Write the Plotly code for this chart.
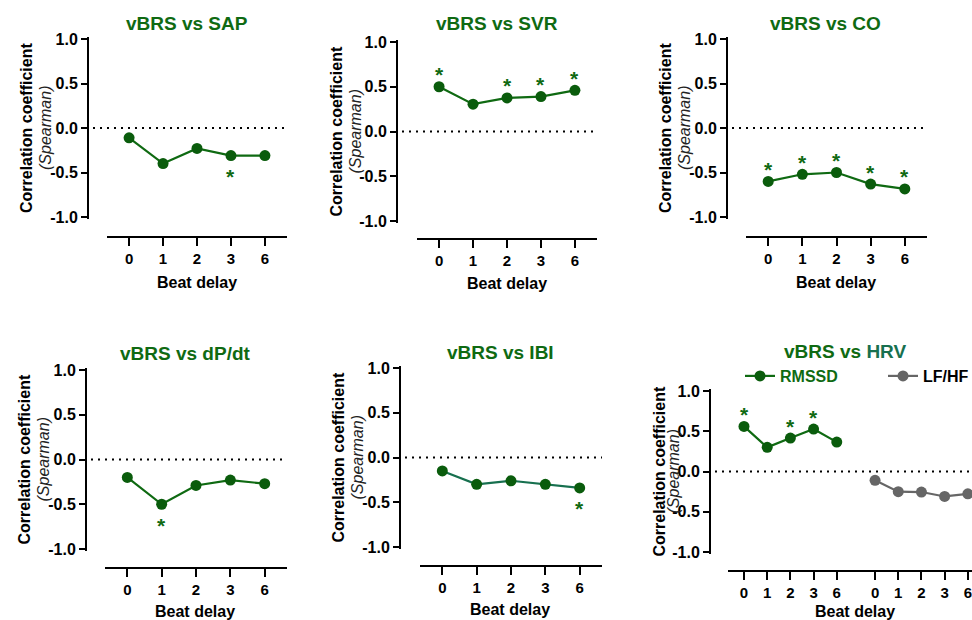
import plotly.graph_objects as go

# ---------------- data ----------------
delays = ["0", "1", "2", "3", "6"]
ytick_vals = [-1.0, -0.5, 0.0, 0.5, 1.0]
ytick_text = ["-1.0", "-0.5", "0.0", "0.5", "1.0"]

sap = [-0.11, -0.40, -0.23, -0.31, -0.31]
svr = [0.50, 0.305, 0.375, 0.39, 0.46]
co = [-0.60, -0.52, -0.50, -0.63, -0.685]
dpdt = [-0.20, -0.50, -0.29, -0.23, -0.27]
ibi = [-0.15, -0.30, -0.26, -0.30, -0.34]
rmssd = [0.56, 0.30, 0.415, 0.527, 0.365]
lfhf = [-0.11, -0.25, -0.255, -0.31, -0.277]

sap_sig = [False, False, False, True, False]
svr_sig = [True, False, True, True, True]
co_sig = [True, True, True, True, True]
dpdt_sig = [False, True, False, False, False]
ibi_sig = [False, False, False, False, True]
rmssd_sig = [True, False, True, True, False]

# ---------------- style ----------------
W, H = 972, 620
FONT = "Liberation Sans"
GREEN = "#0f6a12"
MARK = "#0a5c0c"
TEAL = "#17704f"
GRAY = "#666666"

def fx(p):
    return p / W

def fy(p):
    return 1 - p / H

# panel layout in pixels
panels = [
    dict(name="vBRS vs SAP", ax=88, y1=39, ym1=217, xay=237, xl=107, xr=287,
         tx=187, ty=23, bx=197, by=282, o1=61, o2=42, xr_=[-0.65, 4.65]),
    dict(name="vBRS vs SVR", ax=397, y1=42, ym1=221, xay=239, xl=417, xr=597,
         tx=497, ty=23, bx=507, by=284, o1=61, o2=42, xr_=[-0.65, 4.65]),
    dict(name="vBRS vs CO", ax=727, y1=39, ym1=217, xay=237, xl=746, xr=927,
         tx=825, ty=23, bx=836, by=282, o1=61, o2=42, xr_=[-0.65, 4.65]),
    dict(name="vBRS vs dP/dt", ax=86, y1=370, ym1=549, xay=568, xl=105, xr=287,
         tx=185, ty=353, bx=195, by=611, o1=62, o2=43, xr_=[-0.65, 4.65]),
    dict(name="vBRS vs IBI", ax=400, y1=368, ym1=547, xay=566, xl=420, xr=602,
         tx=500, ty=352, bx=510, by=609, o1=62, o2=43, xr_=[-0.65, 4.65]),
    dict(name="vBRS vs <span style='color:%s'>HRV</span>" % TEAL, ax=710, y1=391, ym1=552,
         xay=571, xl=728, xr=972, tx=845, ty=351, bx=855, by=611, o1=51, o2=37,
         xr_=[-0.69, 9.83]),
]

series = [
    [(sap, sap_sig, GREEN, MARK, "below")],
    [(svr, svr_sig, GREEN, MARK, "above")],
    [(co, co_sig, GREEN, MARK, "above")],
    [(dpdt, dpdt_sig, GREEN, MARK, "below")],
    [(ibi, ibi_sig, TEAL, MARK, "below")],
    [(rmssd, rmssd_sig, GREEN, MARK, "above"), (lfhf, None, GRAY, GRAY, None)],
]

GROUP_GAP = 5.65  # position of second group in HRV panel

fig = go.Figure()
annotations = []
shapes = []
layout = {}

for i, (p, sers) in enumerate(zip(panels, series), start=1):
    xa = "x" if i == 1 else "x%d" % i
    ya = "y" if i == 1 else "y%d" % i
    xkey = "xaxis" if i == 1 else "xaxis%d" % i
    ykey = "yaxis" if i == 1 else "yaxis%d" % i

    ppu = (p["ym1"] - p["y1"]) / 2.0
    ext = 0.02
    ytop = p["y1"] - ext * ppu
    ybot = p["ym1"] + ext * ppu

    hrv = (i == 6)
    for k, (vals, sig, lc, mc, where) in enumerate(sers):
        if hrv:
            xs = [j + k * GROUP_GAP for j in range(len(delays))]
        else:
            xs = list(range(len(delays)))
        nm = ["RMSSD", "LF/HF"][k] if hrv else None
        fig.add_trace(go.Scatter(
            x=xs, y=vals, mode="lines+markers", xaxis=xa, yaxis=ya,
            line=dict(color=lc, width=2.2),
            marker=dict(color=mc, size=11),
            cliponaxis=False,
            showlegend=hrv,
            name=("<span style='color:%s'>RMSSD</span>" % GREEN) if (hrv and k == 0) else (nm or ""),
        ))
        if sig is not None:
            for xv, yv, s in zip(xs, vals, sig):
                if s:
                    annotations.append(dict(
                        x=xv, y=yv, xref=xa, yref=ya, text="<b>*</b>", showarrow=False,
                        font=dict(family=FONT, size=21, color=GREEN),
                        yshift=(12 if where == "above" else -21),
                    ))

    if hrv:
        tickvals = [j + k * GROUP_GAP for k in range(2) for j in range(len(delays))]
        ticktext = delays + delays
    else:
        tickvals = list(range(len(delays)))
        ticktext = delays

    layout[xkey] = dict(
        domain=[fx(p["xl"]), min(1.0, fx(p["xr"]))], anchor="free", position=fy(p["xay"]),
        range=p["xr_"], tickvals=tickvals, ticktext=ticktext,
        showline=True, linecolor="black", linewidth=2,
        ticks="outside", ticklen=8, tickwidth=2, tickcolor="black",
        tickfont=dict(family=FONT, size=15, color="black", weight="bold"),
        ticklabeloverflow="allow",
        showgrid=False, zeroline=False, fixedrange=True, automargin=False,
    )
    layout[ykey] = dict(
        domain=[fy(ybot), fy(ytop)], anchor="free", position=fx(p["ax"]),
        range=[-1 - ext, 1 + ext], tickvals=ytick_vals, ticktext=ytick_text,
        showline=True, linecolor="black", linewidth=2,
        ticks="outside", ticklen=6, tickwidth=2, tickcolor="black",
        tickfont=dict(family=FONT, size=16, color="black", weight="bold"),
        showgrid=False, zeroline=False, fixedrange=True, automargin=False,
    )

    # dotted zero reference line
    shapes.append(dict(type="line", xref="paper", yref=ya,
                       x0=fx(p["ax"] + 5), x1=min(1.0, fx(p["xr"])), y0=0, y1=0,
                       line=dict(color="black", width=2, dash="2px,5px")))

    yc = (p["y1"] + p["ym1"]) / 2.0
    annotations += [
        dict(x=fx(p["tx"]), y=fy(p["ty"]), xref="paper", yref="paper", showarrow=False,
             text="<b>%s</b>" % p["name"], font=dict(family=FONT, size=19, color=GREEN),
             xanchor="center", yanchor="middle"),
        dict(x=fx(p["bx"]), y=fy(p["by"]), xref="paper", yref="paper", showarrow=False,
             text="<b>Beat delay</b>", font=dict(family=FONT, size=16, color="black"),
             xanchor="center", yanchor="middle"),
        dict(x=fx(p["ax"] - p["o1"]), y=fy(yc), xref="paper", yref="paper", showarrow=False,
             text="<b>Correlation coefficient</b>", textangle=-90,
             font=dict(family=FONT, size=16, color="black"),
             xanchor="center", yanchor="middle"),
        dict(x=fx(p["ax"] - p["o2"]), y=fy(yc), xref="paper", yref="paper", showarrow=False,
             text="<i>(Spearman)</i>", textangle=-90,
             font=dict(family=FONT, size=16, color="#222222"),
             xanchor="center", yanchor="middle"),
    ]

fig.update_layout(
    template="none",
    width=W, height=H,
    margin=dict(l=0, r=0, t=0, b=0, autoexpand=False),
    paper_bgcolor="white", plot_bgcolor="white",
    showlegend=True,
    hovermode=False,
    legend=dict(orientation="h", x=fx(740), y=fy(376), xanchor="left", yanchor="middle",
                font=dict(family=FONT, size=16, color="black", weight="bold"),
                entrywidth=98, entrywidthmode="pixels", itemwidth=30,
                bgcolor="rgba(0,0,0,0)"),
    annotations=annotations,
    shapes=shapes,
    **layout,
)

fig.write_html(
    "out.html",
    config={"displayModeBar": False},
    post_script="document.body.style.margin='0';document.body.style.overflow='hidden';",
)
